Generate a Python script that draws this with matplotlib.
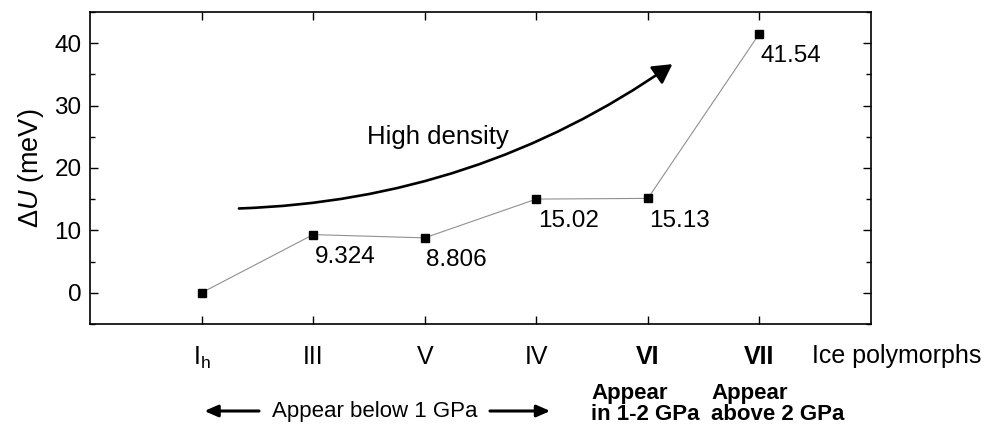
import matplotlib
matplotlib.use("Agg")
import matplotlib.pyplot as plt
from matplotlib.patches import FancyArrowPatch
from matplotlib.ticker import MultipleLocator
import matplotlib.transforms as mtransforms

plt.rcParams['font.family'] = ['Liberation Sans', 'DejaVu Sans']
plt.rcParams['mathtext.fontset'] = 'custom'
plt.rcParams['mathtext.rm'] = 'Liberation Sans'
plt.rcParams['mathtext.it'] = 'Liberation Sans:italic'

# Data
polymorphs = [r"I$_\mathregular{h}$", "III", "V", "IV", "VI", "VII"]
bold_labels = [False, False, False, False, True, True]
delta_u = [0.0, 9.324, 8.806, 15.02, 15.13, 41.54]
value_labels = ["", "9.324", "8.806", "15.02", "15.13", "41.54"]

fig = plt.figure(figsize=(9.89, 4.32), dpi=100)
ax = fig.add_axes([90/989, 1-324/432, (871-90)/989, (324-12)/432])

x = list(range(len(polymorphs)))
ax.plot(x, delta_u, color='#909090', lw=0.8, zorder=2)
ax.plot(x, delta_u, 's', color='black', ms=6, zorder=3)

for xi, yi, lab in zip(x, delta_u, value_labels):
    if lab:
        ax.annotate(lab, (xi, yi), xytext=(1.0, -16), textcoords='offset points',
                    ha='left', va='center', fontsize=17.5)

ax.set_xlim(-1, 6)
ax.set_ylim(-5, 45)
ax.yaxis.set_major_locator(MultipleLocator(10))
ax.yaxis.set_minor_locator(MultipleLocator(5))
ax.set_xticks(x)
ax.set_xticklabels(polymorphs, fontsize=18)
for t, b in zip(ax.get_xticklabels(), bold_labels):
    if b:
        t.set_fontweight('bold')
ax.tick_params(axis='both', which='both', direction='in', top=True, right=True)
ax.tick_params(axis='both', which='major', length=6, width=1.0)
ax.tick_params(axis='y', which='minor', length=3.5, width=1.0)
ax.tick_params(axis='x', which='major', pad=15)
ax.tick_params(axis='y', which='major', pad=6, labelsize=17.5)
for s in ax.spines.values():
    s.set_linewidth(1.2)
ax.set_ylabel(r"$\mathit{\Delta U}$ (meV)", fontsize=19.5, labelpad=6)

# High density arrow
arrow = FancyArrowPatch((0.31, 13.5), (4.24, 36.9), connectionstyle="arc3,rad=0.15",
                        arrowstyle="-|>,head_length=9,head_width=5", lw=1.9,
                        color='black', mutation_scale=1.3)
ax.add_patch(arrow)
ax.text(2.12, 25.0, "High density", fontsize=18.5, ha='center', va='center')

trans = mtransforms.blended_transform_factory(ax.transData, fig.transFigure)
ax.text(5.47, 1-356/432, "Ice polymorphs", transform=trans, fontsize=18,
        ha='left', va='center', clip_on=False)

ax.text(1.55, 1-412/432, "Appear below 1 GPa", transform=trans, fontsize=16,
        ha='center', va='center', clip_on=False)
ax.annotate("", xy=(0.0, 1-411/432), xytext=(0.54, 1-411/432), xycoords=trans,
            textcoords=trans, annotation_clip=False,
            arrowprops=dict(arrowstyle="-|>,head_length=0.8,head_width=0.35",
                            lw=2.2, color='black'))
ax.annotate("", xy=(3.15, 1-411/432), xytext=(2.56, 1-411/432), xycoords=trans,
            textcoords=trans, annotation_clip=False,
            arrowprops=dict(arrowstyle="-|>,head_length=0.8,head_width=0.35",
                            lw=2.2, color='black'))

ax.text(3.49, 1-404/432, "Appear\nin 1-2 GPa", transform=trans, fontsize=16,
        fontweight='bold', ha='left', va='center', linespacing=1.0, clip_on=False)
ax.text(4.57, 1-404/432, "Appear\nabove 2 GPa", transform=trans, fontsize=16,
        fontweight='bold', ha='left', va='center', linespacing=1.0, clip_on=False)

fig.savefig("out.png", dpi=100)
